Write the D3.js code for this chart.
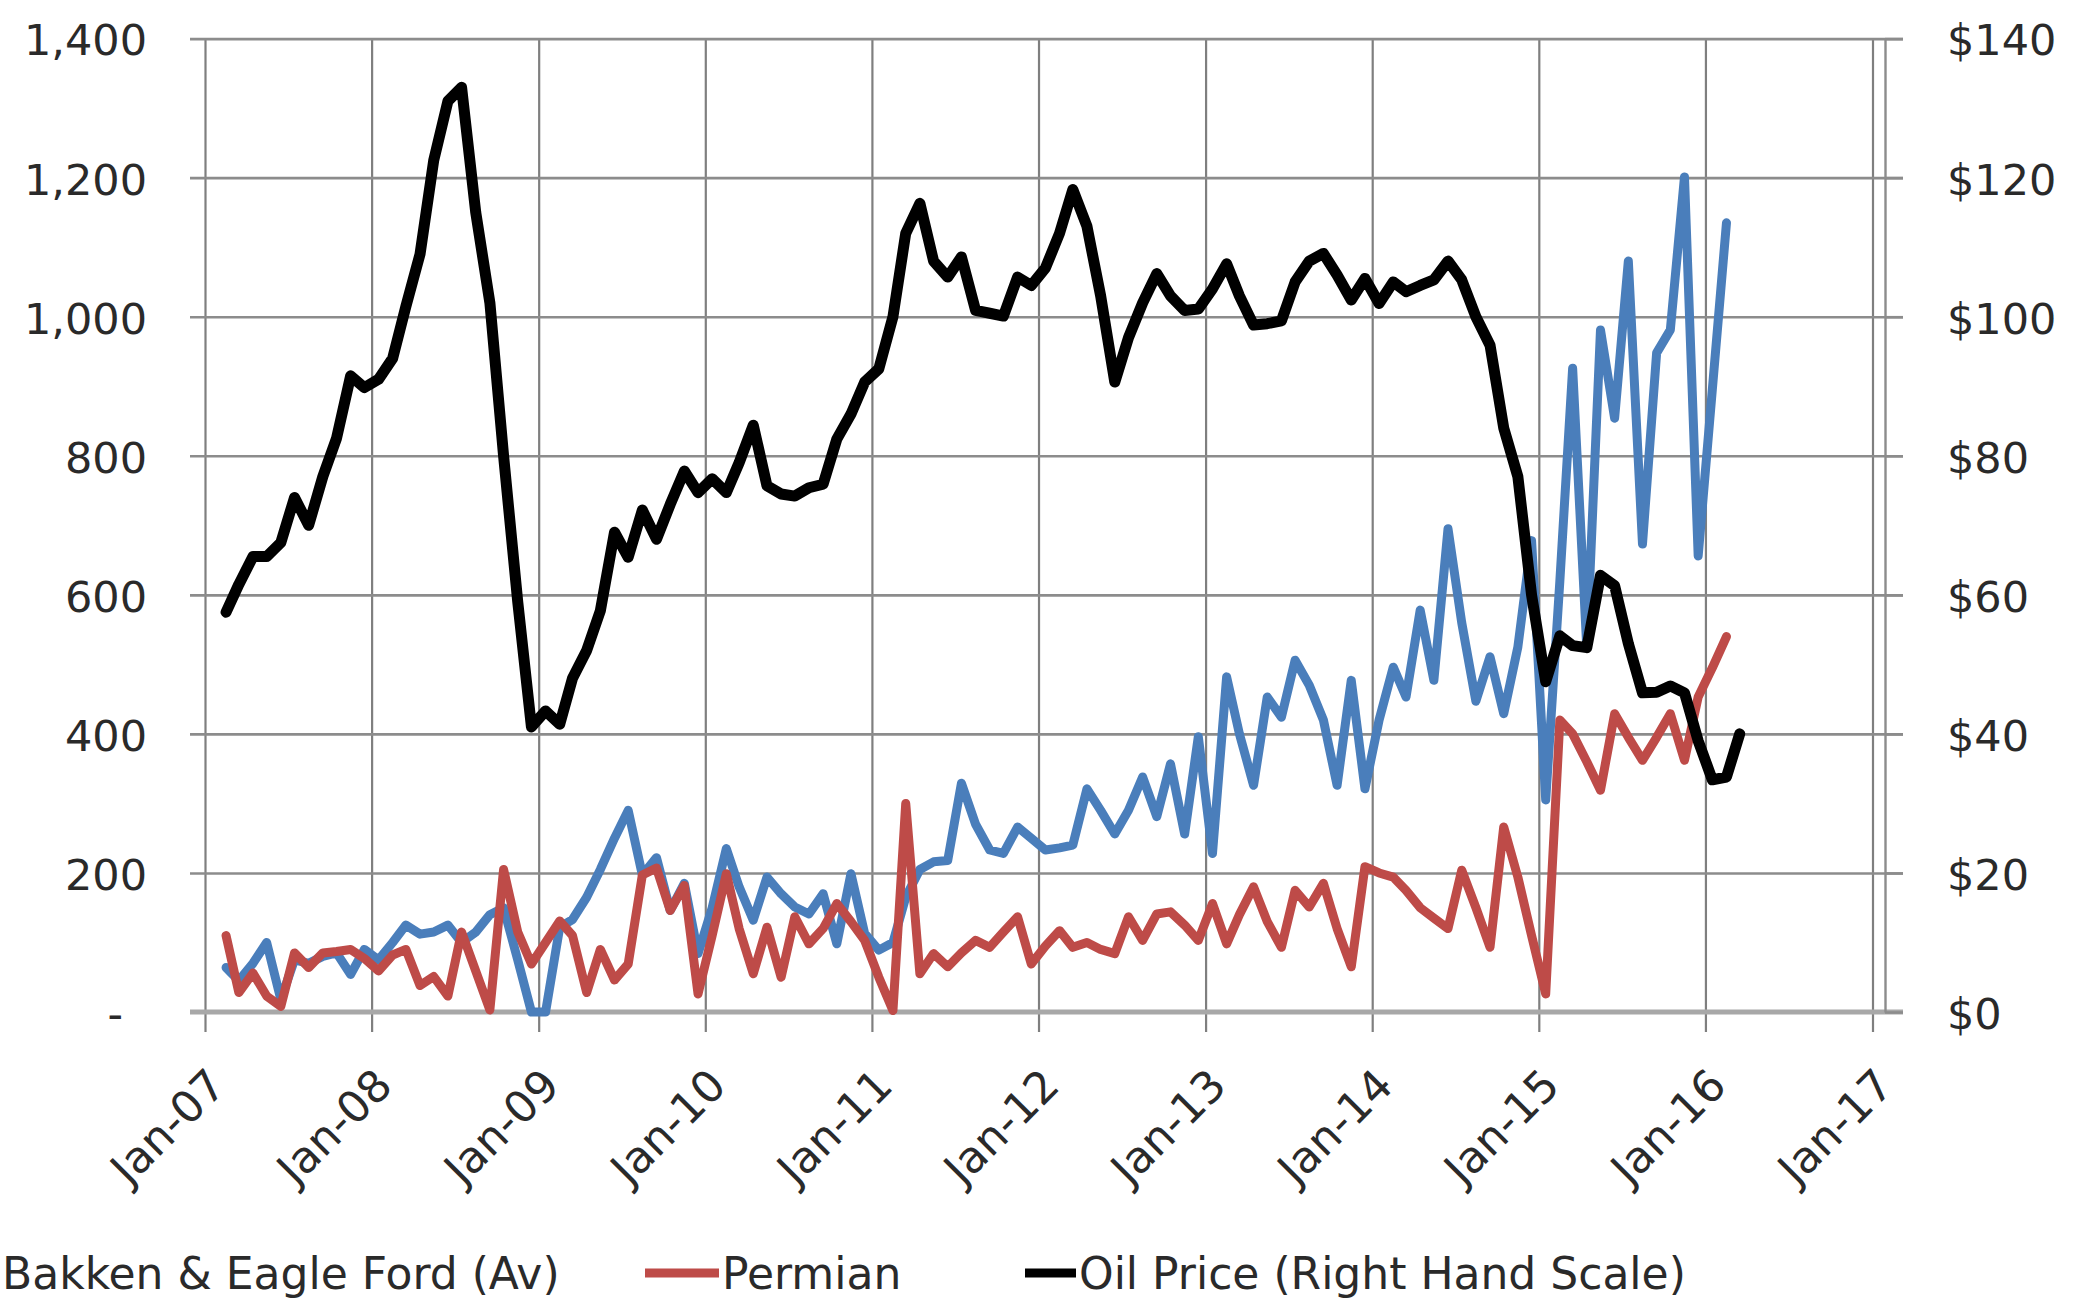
<!DOCTYPE html>
<html><head><meta charset="utf-8">
<script src="https://cdn.jsdelivr.net/npm/d3@7"></script>
<style>body{margin:0;background:#fff;} svg{display:block;background:#fff;}</style>
</head><body><svg id="c" width="2087" height="1304"></svg>
<script>
// First data month: Feb 2007 (monthly observations)
const firstMonth = {year: 2007, month: 1};

const oilPrice = [57.5,61.5,65.5,65.5,67.5,74,70,77,82.5,91.5,89.8,
  91,94,101.5,109,122.5,131,133,115,102,80,59,41,
  43.3,41.4,48,52,57.7,69,65.4,72.2,68,73,77.8,74.7,
  76.7,74.7,79,84.4,75.7,74.5,74.2,75.4,75.9,82.4,86,90.6,
  92.5,100,112,116.3,108,105.7,108.6,100.9,100.5,100.1,105.7,104.5,
  107,112,118.3,113,103,90.6,97,102,106.2,103,100.9,101.1,
  104,107.6,103,98.8,99,99.4,105,108,109.1,106,102.4,105.5,
  101.9,105,103.6,104.5,105.3,108,105.3,100,95.9,84,77,60,
  47.5,54.1,52.7,52.4,62.8,61.3,53,45.9,46,46.9,45.9,39,
  33.4,33.8,40];

const bakkenEagleFord = [64,45,70,100,18,75,70,80,85,54,90,
  75,100,125,112,115,125,100,115,140,150,75,0,
  0,122,133,165,205,250,290,197,222,146,185,84,
  150,235,180,132,194,170,151,141,170,98,199,113,
  89,100,165,205,216,218,329,270,233,228,266,250,
  233,236,240,321,290,256,290,338,281,357,256,396,
  228,482,400,326,453,424,506,470,420,326,477,321,
  420,496,453,578,477,695,560,447,511,429,525,678,
  305,620,926,524,981,854,1080,673,948,981,1201,656,
  895,1135];

const permian = [110,28,56,23,8,85,64,85,87,90,77,
  59,82,90,38,51,23,115,59,3,205,115,69,
  100,131,110,28,90,46,69,197,207,146,182,26,
  110,199,120,55,122,50,137,98,120,156,130,103,
  50,2,300,55,84,65,85,103,93,115,137,69,
  95,117,93,100,90,84,137,103,141,144,125,103,
  156,98,140,180,130,93,175,151,185,120,65,209,
  200,194,175,150,135,120,204,150,93,266,194,110,
  26,420,400,360,319,429,395,362,395,429,362,453,
  495,540];

const leftTicks = [0,200,400,600,800,1000,1200,1400];
const rightTicks = [0,20,40,60,80,100,120,140];
const xTickYears = [2007,2008,2009,2010,2011,2012,2013,2014,2015,2016,2017];
const seriesNames = ["Bakken & Eagle Ford (Av)", "Permian", "Oil Price (Right Hand Scale)"];
const seriesColors = ["#4a7ebb", "#be4b48", "#000000"];

const svg = d3.select("#c");
const FONT = "DejaVu Sans";
const TXT = "#2a2a2a";

const x = d3.scaleTime()
  .domain([new Date(2007,0,1), new Date(2017,0,1)])
  .range([205.5, 1873]);
const yL = d3.scaleLinear().domain([0,1400]).range([1012, 38.6]);
const yR = d3.scaleLinear().domain([0,140]).range([1012, 38.6]);

const gridLeft = 190, gridRight = 1903, rightAxisX = 1885;
const xTickDates = xTickYears.map(y => new Date(y,0,1));

// vertical gridlines
svg.append("g").selectAll("line").data(xTickDates).join("line")
  .attr("x1", d => x(d)).attr("x2", d => x(d))
  .attr("y1", yL(1400)).attr("y2", 1032)
  .attr("stroke", "#7f7f7f").attr("stroke-width", 2.2);

// left axis with horizontal gridlines
const gL = svg.append("g").attr("transform", `translate(${gridLeft},0)`)
  .call(d3.axisLeft(yL).tickValues(leftTicks)
    .tickSizeInner(-(gridRight-gridLeft)).tickSizeOuter(0).tickPadding(43)
    .tickFormat(d => d === 0 ? "-" : d3.format(",")(d)));
gL.select(".domain").remove();
gL.selectAll(".tick line").attr("stroke", "#8c8c8c").attr("stroke-width", 2.6);
gL.selectAll(".tick text").attr("font-family", FONT).attr("font-size", 43)
  .attr("fill", TXT).attr("dy", "0.38em")
  .attr("dx", d => d === 0 ? -24 : 0);

// zero baseline (heavier, lighter gray)
svg.append("line").attr("x1", gridLeft).attr("x2", gridRight)
  .attr("y1", yL(0)).attr("y2", yL(0))
  .attr("stroke", "#a8a8a8").attr("stroke-width", 5);

// right axis
const gR = svg.append("g").attr("transform", `translate(${rightAxisX},0)`)
  .call(d3.axisRight(yR).tickValues(rightTicks)
    .tickSizeInner(gridRight-rightAxisX).tickSizeOuter(0).tickPadding(44)
    .tickFormat(d => "$" + d));
gR.select(".domain").attr("stroke", "#8c8c8c").attr("stroke-width", 2.4);
gR.selectAll(".tick line").attr("stroke", "#8c8c8c").attr("stroke-width", 2.6);
gR.selectAll(".tick text").attr("font-family", FONT).attr("font-size", 43)
  .attr("fill", TXT).attr("dy", "0.38em");

// bottom axis labels
const gB = svg.append("g").attr("transform", `translate(0,${yL(0)})`)
  .call(d3.axisBottom(x).tickValues(xTickDates).tickSize(0)
    .tickFormat(d3.timeFormat("%b-%y")));
gB.select(".domain").remove();
gB.selectAll(".tick text").attr("font-family", FONT).attr("font-size", 44)
  .attr("fill", TXT).attr("y", 0).attr("dy", 0)
  .attr("text-anchor", "end")
  .attr("transform", "translate(22,76) rotate(-45)");

// data
const dateOf = i => new Date(firstMonth.year, firstMonth.month + i, 15);
const lineL = d3.line().x((d,i) => x(dateOf(i))).y(d => yL(d));
const lineR = d3.line().x((d,i) => x(dateOf(i))).y(d => yR(d));

const plot = svg.append("g")
  .attr("fill", "none").attr("stroke-linejoin", "round").attr("stroke-linecap", "round");
plot.append("path").datum(bakkenEagleFord).attr("d", lineL)
  .attr("stroke", seriesColors[0]).attr("stroke-width", 9);
plot.append("path").datum(permian).attr("d", lineL)
  .attr("stroke", seriesColors[1]).attr("stroke-width", 9);
plot.append("path").datum(oilPrice).attr("d", lineR)
  .attr("stroke", seriesColors[2]).attr("stroke-width", 11);

// legend
const legend = svg.append("g").attr("font-family", FONT).attr("font-size", 44).attr("fill", TXT);
const legendItems = [
  {name: seriesNames[0], color: seriesColors[0], sx1: -80, sx2: -20, tx: 2, anchor: "start"},
  {name: seriesNames[1], color: seriesColors[1], sx1: 645, sx2: 719, tx: 722, anchor: "start"},
  {name: seriesNames[2], color: seriesColors[2], sx1: 1025, sx2: 1076, tx: 1079, anchor: "start"}
];
legend.selectAll("line").data(legendItems).join("line")
  .attr("x1", d => d.sx1).attr("x2", d => d.sx2)
  .attr("y1", 1273).attr("y2", 1273)
  .attr("stroke", d => d.color).attr("stroke-width", 9);
legend.selectAll("text").data(legendItems).join("text")
  .attr("x", d => d.tx).attr("y", 1289)
  .attr("text-anchor", d => d.anchor)
  .text(d => d.name);
</script>
</body></html>
